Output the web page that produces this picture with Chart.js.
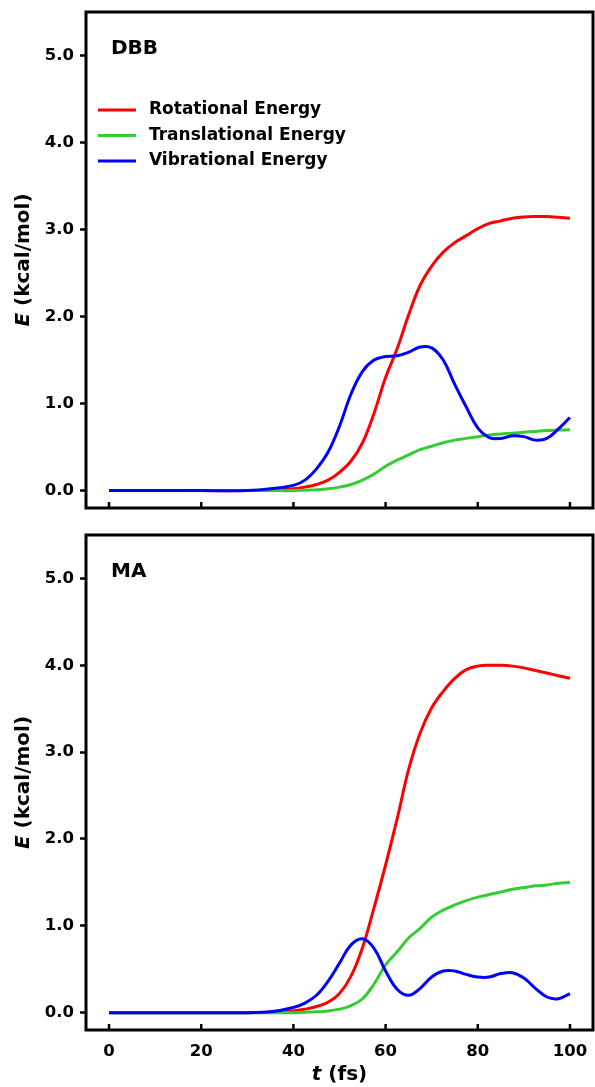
<!DOCTYPE html>
<html>
<head>
<meta charset="utf-8">
<script src="https://cdn.jsdelivr.net/npm/chart.js@4.4.0/dist/chart.umd.min.js"></script>
<style>
  body { margin: 0; background: #fff; }
  #wrap { position: relative; width: 595px; height: 1087px; }
  #wrap canvas { position: absolute; left: 0; }
</style>
</head>
<body>
<div id="wrap">
  <canvas id="chartDBB" width="595" height="520" style="top:0"></canvas>
  <canvas id="chartMA" width="595" height="567" style="top:520px"></canvas>
</div>
<script>
// time axis (fs)
var timeFs = [0, 10, 20, 30, 35, 40, 42.5, 45, 47.5, 50, 52.5, 55, 57.5, 60, 62.5, 65, 67.5, 70,
              72.5, 75, 77.5, 80, 82.5, 85, 87.5, 90, 92.5, 95, 97.5, 100];

// DBB (kcal/mol)
var dbbRot   = [0, 0, 0, 0, 0.005, 0.02, 0.04, 0.07, 0.12, 0.21, 0.34, 0.55, 0.89, 1.30, 1.63, 2.02, 2.36, 2.58,
                2.74, 2.85, 2.93, 3.01, 3.07, 3.10, 3.13, 3.145, 3.15, 3.15, 3.14, 3.13];
var dbbTrans = [0, 0, 0, 0, 0, 0, 0.005, 0.01, 0.02, 0.04, 0.07, 0.12, 0.19, 0.28, 0.35, 0.41, 0.47, 0.51,
                0.55, 0.58, 0.60, 0.62, 0.64, 0.65, 0.66, 0.67, 0.68, 0.69, 0.695, 0.70];
var dbbVib   = [0, 0, 0, 0, 0.02, 0.06, 0.12, 0.25, 0.44, 0.74, 1.11, 1.37, 1.50, 1.54, 1.55, 1.59, 1.65, 1.64,
                1.50, 1.22, 0.96, 0.72, 0.61, 0.60, 0.63, 0.62, 0.58, 0.60, 0.71, 0.84];

// MA (kcal/mol)
var maRot   = [0, 0, 0, 0, 0.005, 0.02, 0.04, 0.07, 0.12, 0.22, 0.42, 0.75, 1.21, 1.70, 2.23, 2.80, 3.22, 3.51,
               3.70, 3.85, 3.95, 3.99, 4.00, 4.00, 3.99, 3.97, 3.94, 3.91, 3.88, 3.85];
var maTrans = [0, 0, 0, 0, 0, 0, 0.005, 0.01, 0.02, 0.04, 0.08, 0.16, 0.33, 0.55, 0.70, 0.86, 0.97, 1.10,
               1.18, 1.24, 1.29, 1.33, 1.36, 1.39, 1.42, 1.44, 1.46, 1.47, 1.49, 1.50];
var maVib   = [0, 0, 0, 0, 0.01, 0.06, 0.11, 0.20, 0.36, 0.57, 0.78, 0.85, 0.74, 0.48, 0.27, 0.20, 0.28, 0.41,
               0.48, 0.48, 0.44, 0.41, 0.41, 0.45, 0.46, 0.40, 0.28, 0.18, 0.16, 0.22];

var seriesNames = ['Rotational Energy', 'Translational Energy', 'Vibrational Energy'];
var seriesColors = ['#ff0000', '#32cd32', '#0000ff'];
var xTicks = [0, 20, 40, 60, 80, 100];
var yTicks = [0, 1, 2, 3, 4, 5];

var FONT = "'DejaVu Sans', sans-serif";

function pts(ys) {
    return ys.map(function (v, i) { return { x: timeFs[i], y: v }; });
}

// frame, inward x ticks, panel label, legend and axis titles
var framePlugin = {
    id: 'frame',
    afterDraw: function (chart, args, opts) {
        var ctx = chart.ctx, a = chart.chartArea, x = chart.scales.x;
        ctx.save();
        ctx.strokeStyle = '#000';
        ctx.lineWidth = 2.5;
        xTicks.forEach(function (v) {
            var px = x.getPixelForValue(v);
            ctx.beginPath();
            ctx.moveTo(px, a.bottom);
            ctx.lineTo(px, a.bottom - 6);
            ctx.stroke();
        });
        ctx.lineWidth = 3;
        ctx.strokeRect(a.left, a.top, a.right - a.left, a.bottom - a.top);

        ctx.fillStyle = '#000';
        ctx.textBaseline = 'middle';
        ctx.textAlign = 'left';
        ctx.font = 'bold 20px ' + FONT;
        ctx.fillText(opts.label, a.left + 25, a.top + 37);

        if (opts.legend) {
            ctx.font = 'bold 17px ' + FONT;
            chart.data.datasets.forEach(function (ds, i) {
                var yy = a.top + 98 + i * 25.5;
                ctx.strokeStyle = ds.borderColor;
                ctx.lineWidth = 3;
                ctx.beginPath();
                ctx.moveTo(a.left + 12, yy);
                ctx.lineTo(a.left + 50, yy);
                ctx.stroke();
                ctx.fillText(ds.label, a.left + 63, yy);
            });
        }

        // y title: italic E + (kcal/mol)
        ctx.save();
        ctx.translate(24, (a.top + a.bottom) / 2);
        ctx.rotate(-Math.PI / 2);
        var p1 = 'E', p2 = ' (kcal/mol)';
        ctx.font = 'italic bold 20px ' + FONT;
        var w1 = ctx.measureText(p1).width;
        ctx.font = 'bold 20px ' + FONT;
        var w2 = ctx.measureText(p2).width;
        var sx = -(w1 + w2) / 2;
        ctx.font = 'italic bold 20px ' + FONT;
        ctx.fillText(p1, sx, 0);
        ctx.font = 'bold 20px ' + FONT;
        ctx.fillText(p2, sx + w1, 0);
        ctx.restore();

        if (opts.xTitle) {
            var q1 = 't', q2 = ' (fs)';
            ctx.font = 'italic bold 20px ' + FONT;
            var v1 = ctx.measureText(q1).width;
            ctx.font = 'bold 20px ' + FONT;
            var v2 = ctx.measureText(q2).width;
            var cx = (a.left + a.right) / 2 - (v1 + v2) / 2;
            var cy = a.bottom + 45;
            ctx.font = 'italic bold 20px ' + FONT;
            ctx.fillText(q1, cx, cy);
            ctx.font = 'bold 20px ' + FONT;
            ctx.fillText(q2, cx + v1, cy);
        }
        ctx.restore();
    }
};

function makeChart(id, label, rot, trans, vib, bottomPanel) {
    var ctx = document.getElementById(id).getContext('2d');
    var data = [rot, trans, vib];
    return new Chart(ctx, {
        type: 'line',
        data: {
            datasets: data.map(function (d, i) {
                return {
                    label: seriesNames[i],
                    data: pts(d),
                    borderColor: seriesColors[i],
                    borderWidth: 3,
                    pointRadius: 0,
                    fill: false,
                    tension: 0.4,
                    order: 3 - i
                };
            })
        },
        options: {
            responsive: false,
            animation: false,
            events: [],
            layout: { padding: { top: bottomPanel ? 15 : 12, right: 2, bottom: bottomPanel ? 0 : 12, left: 0 } },
            plugins: {
                legend: { display: false },
                tooltip: { enabled: false },
                frame: { label: label, legend: !bottomPanel, xTitle: bottomPanel }
            },
            scales: {
                x: {
                    type: 'linear',
                    min: -5,
                    max: 105,
                    display: bottomPanel,
                    afterBuildTicks: function (s) { s.ticks = xTicks.map(function (v) { return { value: v }; }); },
                    afterFit: function (s) {
                        s.height = bottomPanel ? 57 : 0;
                        s.paddingLeft = 0; s.paddingRight = 0;
                    },
                    grid: { display: false, drawTicks: false },
                    border: { display: false },
                    ticks: {
                        color: '#000',
                        padding: 12,
                        maxRotation: 0,
                        font: { family: FONT, size: 16.5, weight: 'bold' }
                    }
                },
                y: {
                    min: -0.2,
                    max: 5.5,
                    afterBuildTicks: function (s) { s.ticks = yTicks.map(function (v) { return { value: v }; }); },
                    afterFit: function (s) {
                        s.width = 86;
                        s.paddingTop = 0; s.paddingBottom = 0;
                    },
                    grid: { drawOnChartArea: false, drawTicks: true, tickLength: 6, tickWidth: 2.5, tickColor: '#000' },
                    border: { display: false },
                    ticks: {
                        color: '#000',
                        padding: 6,
                        font: { family: FONT, size: 16.5, weight: 'bold' },
                        callback: function (v) { return v.toFixed(1); }
                    }
                }
            }
        },
        plugins: [framePlugin]
    });
}

makeChart('chartDBB', 'DBB', dbbRot, dbbTrans, dbbVib, false);
makeChart('chartMA', 'MA', maRot, maTrans, maVib, true);
</script>
</body>
</html>
